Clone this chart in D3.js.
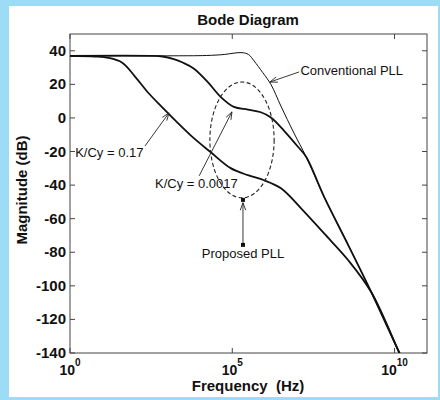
<!DOCTYPE html>
<html>
<head>
<meta charset="utf-8">
<script src="https://cdn.jsdelivr.net/npm/d3@7"></script>
<style>
  body { margin: 0; background: #9ddcf6; }
  text { font-family: "Liberation Sans", Arial, sans-serif; fill: #111; }
</style>
</head>
<body>
<script>
// frequency given as exponent of 10 (Hz), magnitude in dB
var convExp = [0, 3, 4.2, 4.75, 5.05, 5.3, 5.5, 5.67, 5.94, 6.19, 6.5, 6.9, 7.28, 7.83, 8.58, 9.29, 10.15, 10.4];
var convDb  = [37, 37, 37.2, 37.8, 38.6, 38.9, 37.8, 34, 27, 20, 7, -9, -23.3, -47, -76, -104, -140, -150];

var midExp = [0, 2.5, 2.85, 3.2, 3.47, 3.81, 4.24, 4.64, 5.05, 5.48, 5.88, 6.19, 6.59, 7.03, 7.28, 7.83, 8.58, 9.29, 10.15, 10.4];
var midDb  = [37, 37, 36.6, 35, 33, 29.5, 21.5, 12.6, 6.6, 5, 3.4, 0.3, -7.5, -17.3, -23.3, -47, -76, -104, -140, -150];

var lowExp = [0, 0.77, 1.18, 1.61, 2.01, 2.41, 2.85, 3.25, 3.78, 4.33, 4.95, 5.48, 5.98, 6.5, 7.12, 7.83, 8.58, 9.29, 10.15, 10.4];
var lowDb  = [37, 36.6, 35.8, 32.9, 24.5, 15, 6.2, -1.6, -11.4, -20.3, -29.9, -34.1, -37.1, -41.9, -53.8, -68.8, -84.9, -104, -140, -150];

var yTicks = [40, 20, 0, -20, -40, -60, -80, -100, -120, -140];
var xTickExp = [0, 5, 10];

var w = 440, h = 400;
var pLeft = 70, pRight = 427, pTop = 34, pBottom = 353;

var svg = d3.select("body").append("svg")
    .attr("width", w)
    .attr("height", h);

/* white page inside the blue frame */
svg.append("rect").attr("x", 9).attr("y", 6).attr("width", 429).attr("height", 391).attr("fill", "#fff");

var x = d3.scaleLog().domain([1, 1e11]).range([pLeft, pRight]);
var y = d3.scaleLinear().domain([-140, 50]).range([pBottom, pTop]);

svg.append("defs").append("clipPath").attr("id", "plot")
  .append("rect").attr("x", pLeft).attr("y", pTop).attr("width", pRight - pLeft).attr("height", pBottom - pTop);

/* axis box */
svg.append("rect")
    .attr("x", pLeft).attr("y", pTop)
    .attr("width", pRight - pLeft).attr("height", pBottom - pTop)
    .attr("fill", "none").attr("stroke", "#444").attr("stroke-width", 1);

/* ticks, inside on every side */
yTicks.forEach(function(t) {
    svg.append("line").attr("x1", pLeft).attr("x2", pLeft + 5).attr("y1", y(t)).attr("y2", y(t)).attr("stroke", "#444");
    svg.append("line").attr("x1", pRight).attr("x2", pRight - 5).attr("y1", y(t)).attr("y2", y(t)).attr("stroke", "#444");
    svg.append("text")
        .attr("x", pLeft - 4).attr("y", y(t) + 5)
        .attr("text-anchor", "end")
        .attr("font-size", 15).attr("font-weight", "bold")
        .text(t);
});
xTickExp.forEach(function(e) {
    var px = x(Math.pow(10, e));
    svg.append("line").attr("x1", px).attr("x2", px).attr("y1", pBottom).attr("y2", pBottom - 5).attr("stroke", "#444");
    svg.append("line").attr("x1", px).attr("x2", px).attr("y1", pTop).attr("y2", pTop + 5).attr("stroke", "#444");
    var t = svg.append("text")
        .attr("x", px).attr("y", 375)
        .attr("text-anchor", "middle")
        .attr("font-size", 14).attr("font-weight", "bold");
    t.append("tspan").text("10");
    t.append("tspan").attr("dy", -9).attr("font-size", 10).text(e);
});

/* titles */
svg.append("text").attr("x", 248).attr("y", 25).attr("text-anchor", "middle")
    .attr("font-size", 15).attr("font-weight", "bold").text("Bode Diagram");
svg.append("text").attr("x", 248).attr("y", 391).attr("text-anchor", "middle")
    .attr("font-size", 15).attr("font-weight", "bold").attr("xml:space", "preserve").text("Frequency  (Hz)");
svg.append("text").attr("transform", "translate(27,190) rotate(-90)").attr("text-anchor", "middle")
    .attr("font-size", 15).attr("font-weight", "bold").text("Magnitude (dB)");

/* curves */
var line = d3.line()
    .x(function(d) { return x(Math.pow(10, d[0])); })
    .y(function(d) { return y(d[1]); })
    .curve(d3.curveCatmullRom.alpha(0.5));

var curves = [
    { e: lowExp, v: lowDb, wd: 1.8 },
    { e: midExp, v: midDb, wd: 1.8 },
    { e: convExp, v: convDb, wd: 1 }
];
var g = svg.append("g").attr("clip-path", "url(#plot)");
curves.forEach(function(c) {
    g.append("path")
        .datum(d3.zip(c.e, c.v))
        .attr("d", line)
        .attr("fill", "none")
        .attr("stroke", "#111")
        .attr("stroke-width", c.wd);
});

/* annotations (in data units) */
function px(e) { return x(Math.pow(10, e)); }

function arrow(e1, d1, e2, d2) {
    var x1 = px(e1), y1 = y(d1), x2 = px(e2), y2 = y(d2);
    var a = Math.atan2(y2 - y1, x2 - x1), L = 8, s = 0.35;
    svg.append("line").attr("x1", x1).attr("y1", y1).attr("x2", x2).attr("y2", y2)
        .attr("stroke", "#222").attr("stroke-width", 0.9);
    svg.append("path")
        .attr("d", "M" + (x2 - L * Math.cos(a - s)) + "," + (y2 - L * Math.sin(a - s)) +
                   "L" + x2 + "," + y2 +
                   "L" + (x2 - L * Math.cos(a + s)) + "," + (y2 - L * Math.sin(a + s)))
        .attr("fill", "none").attr("stroke", "#222").attr("stroke-width", 0.9);
}

// Conventional PLL
arrow(7.06, 27.4, 6.16, 21.4);
svg.append("text").attr("x", px(7.1)).attr("y", y(25.5)).attr("font-size", 13).text("Conventional PLL");

// K/Cy = 0.17
arrow(2.31, -16.7, 3.05, 3);
svg.append("text").attr("x", px(0.16)).attr("y", y(-23)).attr("font-size", 13).text("K/Cy = 0.17");

// K/Cy = 0.0017
arrow(3.98, -34.5, 4.99, 3.6);
svg.append("text").attr("x", px(2.62)).attr("y", y(-41.7)).attr("font-size", 13).text("K/Cy = 0.0017");

// dashed ellipse
var eL = px(4.31), eR = px(6.29), eT = y(21.4), eB = y(-47.6);
svg.append("ellipse")
    .attr("cx", (eL + eR) / 2).attr("cy", (eT + eB) / 2)
    .attr("rx", (eR - eL) / 2).attr("ry", (eB - eT) / 2)
    .attr("fill", "none").attr("stroke", "#222").attr("stroke-width", 1.1)
    .attr("stroke-dasharray", "4,2.5");

// Proposed PLL
arrow(5.33, -75.6, 5.33, -50.5);
[-48.8, -75.6].forEach(function(d) {
    svg.append("rect").attr("x", px(5.33) - 2).attr("y", y(d) - 2).attr("width", 4).attr("height", 4).attr("fill", "#111");
});
svg.append("text").attr("x", px(5.33)).attr("y", y(-83.4)).attr("text-anchor", "middle").attr("font-size", 13).text("Proposed PLL");
</script>
</body>
</html>
